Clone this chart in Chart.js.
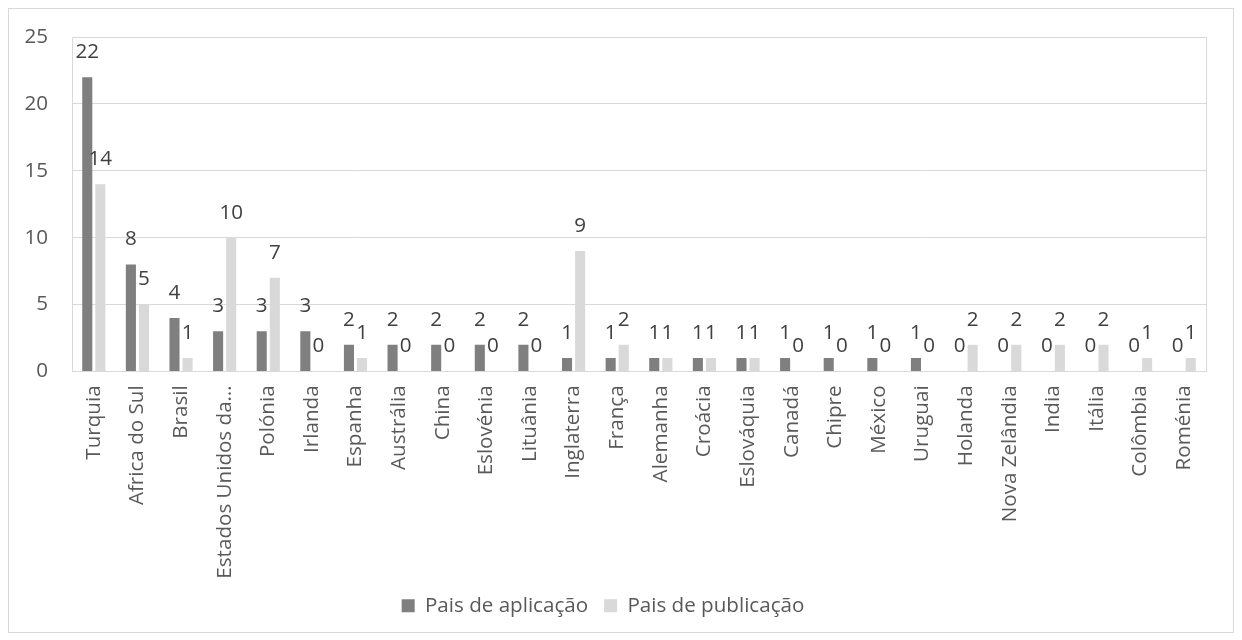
<!DOCTYPE html>
<html>
<head>
<meta charset="utf-8">
<script src="https://cdn.jsdelivr.net/npm/chart.js@4/dist/chart.umd.min.js"></script>
<style>
html,body{margin:0;padding:0;background:#fff;}
#wrap{width:1242px;height:640px;position:relative;}
</style>
</head>
<body>
<div id="wrap"><canvas id="c" width="1242" height="640"></canvas></div>
<script>
const categories = ["Turquia","Africa do Sul","Brasil","Estados Unidos da…","Polónia","Irlanda","Espanha","Austrália","China","Eslovénia","Lituânia","Inglaterra","França","Alemanha","Croácia","Eslováquia","Canadá","Chipre","México","Uruguai","Holanda","Nova Zelândia","India","Itália","Colômbia","Roménia"];
const aplicacao = [22,8,4,3,3,3,2,2,2,2,2,1,1,1,1,1,1,1,1,1,0,0,0,0,0,0];
const publicacao = [14,5,1,10,7,0,1,0,0,0,0,9,2,1,1,1,0,0,0,0,2,2,2,2,1,1];
const seriesNames = ["Pais de aplicação","Pais de publicação"];
const yTicks = [0,5,10,15,20,25];

const FONT = "'Open Sans', 'Noto Sans', sans-serif";
const FS = 20.6;

const framePlugin = {
  id: 'frame',
  beforeDraw(chart){
    const ctx = chart.ctx;
    ctx.save();
    ctx.fillStyle = '#fff';
    ctx.fillRect(0,0,chart.width,chart.height);
    ctx.strokeStyle = '#d9d9d9';
    ctx.lineWidth = 1;
    ctx.strokeRect(8.5,8.5,1225,624);
    ctx.restore();
  },
  afterDraw(chart){
    const a = chart.chartArea;
    const ctx = chart.ctx;
    ctx.save();
    ctx.strokeStyle = '#d9d9d9';
    ctx.lineWidth = 1;
    ctx.strokeRect(Math.round(a.left)+0.5, Math.round(a.top)+0.5, Math.round(a.right-a.left), Math.round(a.bottom-a.top));
    ctx.restore();
  }
};

const labelPlugin = {
  id: 'valueLabels',
  afterDatasetsDraw(chart){
    const ctx = chart.ctx;
    ctx.save();
    ctx.font = FS + 'px ' + FONT;
    ctx.fillStyle = '#404040';
    ctx.textAlign = 'center';
    ctx.textBaseline = 'middle';
    chart.data.datasets.forEach((ds, di) => {
      const meta = chart.getDatasetMeta(di);
      meta.data.forEach((el, i) => {
        ctx.fillText(String(ds.data[i]), el.x, el.y - 25);
      });
    });
    ctx.restore();
  }
};

new Chart(document.getElementById('c'), {
  type: 'bar',
  data: {
    labels: categories,
    datasets: [
      {label: seriesNames[0], data: aplicacao, backgroundColor: '#7f7f7f', categoryPercentage: 0.6, barPercentage: 0.77},
      {label: seriesNames[1], data: publicacao, backgroundColor: '#d9d9d9', categoryPercentage: 0.6, barPercentage: 0.77}
    ]
  },
  options: {
    responsive: false,
    animation: false,
    layout: {padding: {left: 0, right: 36, top: 37, bottom: 14}},
    plugins: {
      legend: {
        position: 'bottom',
        labels: {
          boxWidth: 13, boxHeight: 13, padding: 16,
          color: '#595959',
          font: {family: FONT, size: FS}
        }
      },
      tooltip: {enabled: false}
    },
    scales: {
      x: {
        grid: {display: false, drawTicks: false},
        border: {color: '#d9d9d9'},
        ticks: {
          color: '#595959', minRotation: 90, maxRotation: 90, autoSkip: false, padding: 14,
          font: {family: FONT, size: FS}
        },
        afterFit(scale){ scale.height = 208; }
      },
      y: {
        min: 0, max: 25,
        afterBuildTicks(scale){ scale.ticks = yTicks.map(v => ({value: v})); },
        grid: {color: '#d9d9d9', drawTicks: false},
        border: {display: false},
        ticks: {
          color: '#595959', padding: 24,
          font: {family: FONT, size: FS}
        },
        afterFit(scale){ scale.width = 72; }
      }
    }
  },
  plugins: [framePlugin, labelPlugin]
});
</script>
</body>
</html>
